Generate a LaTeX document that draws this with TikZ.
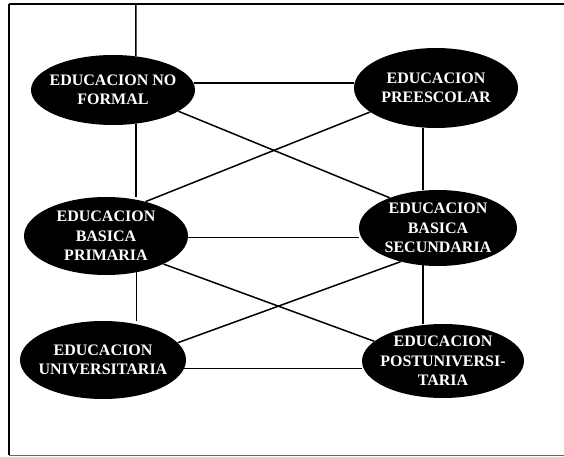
\documentclass[tikz,border=0pt]{standalone}
\usepackage{fontspec}
\setmainfont{Liberation Serif}
\usetikzlibrary{shapes.geometric,backgrounds}
\begin{document}
\begin{tikzpicture}[x=1pt,y=-1pt,
  level/.style={ellipse, fill=black, text=white, align=center,
    font=\bfseries\fontsize{16}{19.5}\selectfont, inner xsep=-7pt, inner ysep=-2pt},
  link/.style={line width=1.5pt, black}]
\useasboundingbox (0,0) rectangle (564,457);

% frame
\draw[line width=2pt] (9,455) -- (9,4);
\draw[line width=1.5pt] (9,4) -- (564,4);
\draw[line width=0.6pt, black!60] (9,455) -- (564,455);

% levels
\node[level, minimum width=164pt, minimum height=70pt] (nf)   at (113,90)  {EDUCACION NO\\FORMAL};
\node[level, minimum width=164pt, minimum height=80pt] (pre)  at (436,88)  {EDUCACION\\PREESCOLAR};
\node[level, minimum width=164pt, minimum height=78pt] (pri)  at (106,236) {EDUCACION\\BASICA\\PRIMARIA};
\node[level, minimum width=158pt, minimum height=76pt] (sec)  at (438,228) {EDUCACION\\BASICA\\SECUNDARIA};
\node[level, minimum width=166pt, minimum height=78pt] (uni)  at (103,360) {EDUCACION\\UNIVERSITARIA};
\node[level, minimum width=162pt, minimum height=74pt] (post) at (443,361) {EDUCACION\\POSTUNIVERSI-\\TARIA};

\coordinate (topend) at (136,4);

% connections
\begin{scope}[on background layer]
  \draw[link] (topend) -- (nf.56);
  \draw[link] (nf.5) -- (nf.5 -| pre.west);
  \draw[link] (nf.-18) -- (sec.148);
  \draw[link] (pre.200) -- (pri.41);
  \draw[link] (pre.252) -- (pre.252 |- sec.north);
  \draw[link] (nf.-56) -- (nf.-56 |- pri.north);
  \draw[link] (pri.-1) -- (pri.-1 -| sec.west);
  \draw[link] (pri.-26) -- (post.164);
  \draw[link] (sec.222) -- (uni.13);
  \draw[link] (sec.248) -- (sec.248 |- post.north);
  \draw[link] (pri.-50) -- (pri.-50 |- uni.north);
  \draw[link] (uni.-6) -- (uni.-6 -| post.west);
\end{scope}
\end{tikzpicture}
\end{document}
